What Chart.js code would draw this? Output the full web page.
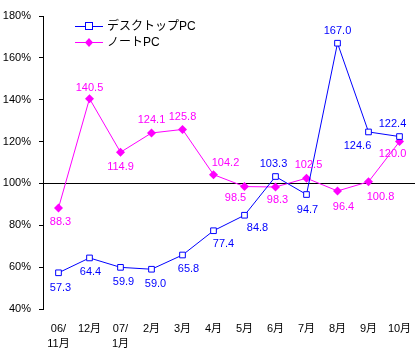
<!DOCTYPE html>
<html>
<head>
<meta charset="utf-8">
<script src="https://cdn.jsdelivr.net/npm/chart.js@4"></script>
<style>
  body { margin: 0; background: #fff; }
  canvas { display: block; }
</style>
</head>
<body>
<canvas id="chart" width="420" height="358"></canvas>
<script>
// months, two-row labels where the year is shown
var labels = [['06/', '11月'], '12月', ['07/', '1月'], '2月', '3月', '4月', '5月', '6月', '7月', '8月', '9月', '10月'];

var desktopName = 'デスクトップPC';
var noteName = 'ノートPC';
var desktop = [57.3, 64.4, 59.9, 59.0, 65.8, 77.4, 84.8, 103.3, 94.7, 167.0, 124.6, 122.4];
var note = [88.3, 140.5, 114.9, 124.1, 125.8, 104.2, 98.5, 98.3, 102.5, 96.4, 100.8, 120.0];

var yTicks = [40, 60, 80, 100, 120, 140, 160, 180];

// where each value label sits around its point (dx, dy in px)
var desktopLabelPos = [[2, 15], [1, 14], [3, 15], [4, 15], [6, 14], [10, 13], [13, 13], [-2, -13], [1, 15], [0, -12], [-11, 14], [-7, -13]];
var noteLabelPos = [[2, 14], [0, -11], [0, 15], [0, -13], [0, -12], [12, -12], [-9, 11], [2, 13], [2, -13], [6, 16], [12, 15], [-7, 12]];

var BLUE = '#0000ff';
var PINK = '#ff00ff';
var FONT = '"Liberation Sans", Arial, "Noto Sans CJK JP", sans-serif';

var valueLabels = {
  id: 'valueLabels',
  afterDatasetsDraw: function(chart) {
    var c = chart.ctx;
    var sets = [[0, desktopLabelPos, BLUE], [1, noteLabelPos, PINK]];
    c.save();
    c.font = '11px ' + FONT;
    c.textAlign = 'center';
    c.textBaseline = 'middle';
    sets.forEach(function(s) {
      var meta = chart.getDatasetMeta(s[0]);
      var vals = chart.data.datasets[s[0]].data;
      c.fillStyle = s[2];
      meta.data.forEach(function(pt, i) {
        c.fillText(vals[i].toFixed(1), pt.x + s[1][i][0], pt.y + s[1][i][1]);
      });
    });
    c.restore();
  }
};

var lineLegend = {
  id: 'lineLegend',
  afterDraw: function(chart) {
    var c = chart.ctx;
    var items = [[desktopName, BLUE, 'rect', 26], [noteName, PINK, 'diamond', 42]];
    c.save();
    items.forEach(function(it) {
      var y = it[3];
      c.strokeStyle = it[1];
      c.lineWidth = 1;
      c.beginPath();
      c.moveTo(75, y + 0.5);
      c.lineTo(103, y + 0.5);
      c.stroke();
      if (it[2] === 'rect') {
        c.fillStyle = '#fff';
        c.fillRect(85.5, y - 3.5, 7, 7);
        c.strokeRect(85.5, y - 3.5, 7, 7);
      } else {
        c.fillStyle = it[1];
        c.beginPath();
        c.moveTo(89, y - 4);
        c.lineTo(93, y + 0.5);
        c.lineTo(89, y + 5);
        c.lineTo(85, y + 0.5);
        c.closePath();
        c.fill();
      }
      c.fillStyle = '#000';
      c.font = '12px ' + FONT;
      c.textAlign = 'left';
      c.textBaseline = 'middle';
      c.fillText(it[0], 107, y + 1);
    });
    c.restore();
  }
};

new Chart(document.getElementById('chart'), {
  type: 'line',
  data: {
    labels: labels,
    datasets: [{
      label: desktopName,
      data: desktop,
      borderColor: BLUE,
      borderWidth: 1,
      backgroundColor: '#fff',
      pointStyle: 'rect',
      pointRadius: 4,
      pointBorderWidth: 1,
      pointBorderColor: BLUE,
      pointBackgroundColor: '#fff',
      tension: 0
    }, {
      label: noteName,
      data: note,
      borderColor: PINK,
      borderWidth: 1,
      backgroundColor: PINK,
      pointStyle: 'rectRot',
      pointRadius: 4.5,
      pointBorderWidth: 0,
      pointBackgroundColor: PINK,
      tension: 0
    }]
  },
  options: {
    responsive: false,
    animation: false,
    layout: { padding: { top: 16, right: 4, left: 0, bottom: 0 } },
    plugins: {
      legend: { display: false },
      tooltip: { enabled: false }
    },
    scales: {
      x: {
        offset: true,
        grid: { display: false, drawTicks: false },
        border: { display: false },
        ticks: {
          color: '#000',
          padding: 12,
          maxRotation: 0,
          autoSkip: false,
          font: { family: FONT, size: 11, lineHeight: 1.4 }
        },
        afterFit: function(scale) {
          scale.height = 49;
          scale.paddingLeft = 0;
          scale.paddingRight = 0;
        }
      },
      y: {
        min: 40,
        max: 180,
        afterBuildTicks: function(scale) {
          scale.ticks = yTicks.map(function(v) { return { value: v }; });
        },
        grid: {
          color: function(ctx) { return ctx.tick && ctx.tick.value === 100 ? '#000' : 'rgba(0,0,0,0)'; },
          tickColor: '#000',
          tickLength: 4,
          lineWidth: 1
        },
        border: { display: true, color: '#000', width: 1 },
        ticks: {
          color: '#000',
          padding: 8,
          font: { family: FONT, size: 11 },
          callback: function(v) { return v + '%'; }
        },
        afterFit: function(scale) { scale.width = 43; }
      }
    }
  },
  plugins: [valueLabels, lineLegend]
});
</script>
</body>
</html>
